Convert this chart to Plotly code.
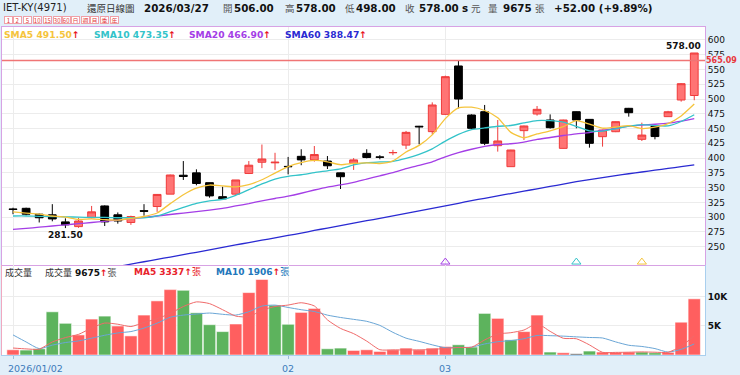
import plotly.graph_objects as go

# ---------------- data ----------------
dates = ["2026/01/02", "2026/01/05", "2026/01/06", "2026/01/07", "2026/01/08", "2026/01/09",
         "2026/01/12", "2026/01/13", "2026/01/14", "2026/01/15", "2026/01/16",
         "2026/01/19", "2026/01/20", "2026/01/21", "2026/01/22", "2026/01/23",
         "2026/01/26", "2026/01/27", "2026/01/28", "2026/01/29", "2026/01/30",
         "2026/02/02", "2026/02/03", "2026/02/04", "2026/02/05", "2026/02/06",
         "2026/02/09", "2026/02/10", "2026/02/11", "2026/02/23", "2026/02/24",
         "2026/02/25", "2026/02/26",
         "2026/03/02", "2026/03/03", "2026/03/04", "2026/03/05", "2026/03/06",
         "2026/03/09", "2026/03/10", "2026/03/11", "2026/03/12", "2026/03/13",
         "2026/03/16", "2026/03/17", "2026/03/18", "2026/03/19", "2026/03/20",
         "2026/03/23", "2026/03/24", "2026/03/25", "2026/03/26", "2026/03/27"]

opens = [314, 315, 305, 304, 292, 284, 299, 319, 304, 291, 311, 318, 339, 371, 375, 358.4,
         334.7, 339, 374, 393, 392, 386, 403, 397, 395, 375, 391, 408, 402, 409, 422, 454,
         444.8, 474.1, 556, 473, 478.6, 421, 385.5, 446.5, 474.7, 464.5, 416.5, 478.6, 465.6,
         436.3, 444.7, 484.3, 431.8, 454.4, 470.2, 498.4, 506]
highs = [316, 316, 306, 322, 298, 299, 319, 320, 308, 302.5, 322, 339, 372, 395, 381, 358.4,
         351.6, 363, 395, 423, 409, 402, 415, 420.5, 403.5, 375.5, 400, 415, 405, 414, 446,
         454.5, 494.4, 539.6, 565, 474, 490, 464.5, 414, 455, 488.2, 474, 465, 479, 466, 448,
         462, 485, 460, 455, 480, 527, 578]
lows = [305, 303, 291, 293, 281.5, 282, 298, 285, 289, 287, 302.5, 309, 339, 363, 354, 333,
        329, 338, 373, 383, 380, 372.5, 388, 394, 381.5, 347.7, 380, 399.6, 398, 405, 415.4,
        423.3, 440.2, 473, 484.3, 449, 422, 411, 385.5, 430.7, 471.9, 450, 416, 450.4, 417.7,
        419.4, 444, 470.2, 429, 431.8, 470, 495.6, 498]
closes = [313, 305, 299, 297, 287, 293.5, 309, 292, 293.5, 301, 310, 338.5, 371.4, 369, 357,
          336, 331, 363, 388, 398.5, 393, 385.5, 397, 406, 387, 368.5, 397, 401, 401.5, 409.5,
          443.6, 453, 489.9, 537.9, 500, 450.4, 425, 429, 413.7, 454.4, 482.6, 451.5, 464.5,
          464.5, 425, 447.6, 461.7, 476.9, 439, 436.5, 478.5, 526, 578]
prior_close = 312.0

volumes = [900, 850, 1070, 7440, 5460, 3460, 6190, 6700, 5000, 3290, 6880, 9320, 11260, 11140,
           7270, 5220, 4030, 5340, 10750, 13020, 8580, 5290, 7340, 8020, 1075, 1190, 785, 900,
           615, 900, 1190, 900, 1190, 1470, 1760, 1365, 7165, 6310, 2610, 4030, 6880, 510, 390,
           220, 680, 510, 460, 510, 510, 390, 460, 5650, 9675]

sma5 = [309, 307, 305, 302, 300.2, 296.3, 297.1, 295.7, 295, 297.8, 301.1, 307, 322.9, 338,
        349.2, 354.4, 352.9, 351.2, 355, 363.3, 374.7, 385.6, 392.4, 396, 393.7, 388.8, 391.1,
        391.9, 390.9, 395.4, 410.4, 421.6, 439.4, 466.8, 484.9, 486.2, 480.6, 468.5, 443.6,
        434.5, 440.9, 446.2, 453.3, 463.5, 457.6, 450.6, 452.7, 455.1, 450, 452.3, 458.5,
        471.4, 491.50]
sma10 = [302, 302, 301.5, 301, 300.5, 300, 299.5, 299.5, 299, 299, 298.7, 302, 309.3, 316.5,
         323.5, 327.7, 330, 337, 346.5, 356.2, 364.5, 369.2, 371.8, 375.5, 378.5, 381.8, 388.4,
         392.2, 393.5, 394.6, 399.6, 406.4, 415.7, 428.8, 440.1, 448.3, 451.1, 453.9, 455.2,
         459.7, 463.6, 463.4, 460.9, 453.6, 446.1, 445.8, 449.5, 454.2, 456.8, 455, 454.6, 462,
         473.35]
sma20 = [279.4, 281, 283, 285, 287, 289, 291, 293, 295, 297.5, 299.5, 302, 304.5, 307, 309.5,
         312, 315, 319, 323, 327.6, 331.6, 335.6, 340.5, 346, 351, 354.7, 359.1, 364.6, 370,
         375.4, 382.1, 387.8, 393.7, 402.2, 409.3, 415, 419.7, 423, 424.3, 427.1, 431.6, 434.9,
         438.3, 441.2, 443.1, 447.1, 450.3, 454.1, 456, 457.3, 459.1, 462.7, 466.90]
sma60 = [184, 188, 192, 196.5, 200.5, 204.5, 208.5, 212.5, 216.5, 220.5, 224.5, 228.5, 232.5,
         236.5, 240.5, 244.5, 249, 253, 257, 261, 265, 269, 273, 277.5, 281.5, 285.5, 290, 294,
         298, 302, 306.5, 310.5, 315, 319, 323.5, 328, 332, 336, 340, 344, 348, 352, 356, 360,
         363.5, 367, 370.5, 373.5, 376.5, 379.5, 382.5, 385.5, 388.47]

vma5 = [1200, 1050, 1000, 2250, 3000, 3550, 4650, 5500, 5300, 4900, 5600, 6250, 7150, 8350,
        9150, 8850, 7800, 6700, 6600, 7700, 8350, 8600, 9000, 8450, 6050, 4580, 3680, 2390,
        910, 880, 880, 880, 960, 1130, 1300, 1340, 2590, 3610, 3840, 4300, 5400, 4070, 2880,
        2800, 1740, 460, 450, 480, 530, 480, 470, 1500, 3337]
vma10 = [3460, 2250, 1100, 1700, 2150, 2420, 2900, 3400, 3800, 4036, 4634, 5481, 6500, 6870,
         7051, 7227, 7011, 6875, 7450, 8423, 8593, 8190, 7798, 7486, 6867, 6464, 6139, 5800,
         5100, 3900, 2900, 2350, 1750, 1250, 1300, 1350, 1900, 2287, 2486, 2799, 3368, 3329,
         3249, 3124, 3016, 2931, 2260, 1680, 1470, 1106, 500, 978, 1906]

ref_price = 565.09
price_ticks = [250, 275, 300, 325, 350, 375, 400, 425, 450, 475, 500, 525, 550, 575, 600]
vol_ticks = [5000, 10000]
vol_tick_text = ["5K", "10K"]
month_ticks = ["2026/01/02", "2026/02/02", "2026/03/02"]
month_text = ["2026/01/02", "02", "03"]
period_buttons = ["1", "2", "5", "10", "15", "30", "60", "日", "週", "月", "季", "年"]
signal_dates = ["2026/03/02", "2026/03/16", "2026/03/23"]
signal_names = ["SMA20", "SMA10", "SMA5"]

# ---------------- style ----------------
W, H = 740, 375
FONT = "DejaVu Sans, Noto Sans CJK TC, sans-serif"
CJK = "Noto Sans CJK TC, DejaVu Sans, sans-serif"
PAPER = "#e1eff9"
VIOLET = "#d7a2e4"
LBLUE = "#a9cfee"
GRID = "#ececec"
C5, C10, C20, C60 = "#f5c43c", "#33c3c9", "#a43ee6", "#2a2ad2"
UP_FILL, UP_LINE = "#ff7474", "#ef3b3b"
V_UP, V_DN, V_FLAT = "#ff5f5f", "#5db35d", "#5a5a5a"
ARROW = "#e8101a"
sig_colors = {"SMA5": C5, "SMA10": C10, "SMA20": C20}


def px(x):
    return x / W


def py(y):
    return 1 - y / H


X_DOM = [px(2), px(705)]
P_DOM = [py(265), py(27)]
V_DOM = [py(355), py(265)]
P_RANGE = [219, 622]
X_RANGE = [-0.84, len(dates) - 1 + 0.82]

fig = go.Figure()

for vals, col in [(sma60, C60), (sma20, C20), (sma10, C10), (sma5, C5)]:
    fig.add_trace(go.Scatter(x=dates, y=vals, mode="lines", xaxis="x", yaxis="y",
                             line=dict(color=col, width=1.3, shape="spline", smoothing=0.6),
                             hoverinfo="skip"))

fig.add_trace(go.Candlestick(
    x=dates, open=opens, high=highs, low=lows, close=closes, xaxis="x", yaxis="y",
    increasing=dict(line=dict(color=UP_LINE, width=1), fillcolor=UP_FILL),
    decreasing=dict(line=dict(color="#000000", width=1), fillcolor="#000000"),
    whiskerwidth=0))

fig.add_trace(go.Scatter(
    x=signal_dates, y=[P_RANGE[0] + 5] * len(signal_dates), mode="markers",
    xaxis="x", yaxis="y", cliponaxis=False, hoverinfo="skip",
    marker=dict(symbol="triangle-up-open", size=8,
                color=[sig_colors[n] for n in signal_names],
                line=dict(width=1, color=[sig_colors[n] for n in signal_names]))))

vol_colors = []
prev = prior_close
for c in closes:
    vol_colors.append(V_UP if c > prev else (V_DN if c < prev else V_FLAT))
    prev = c

fig.add_trace(go.Bar(x=dates, y=volumes, xaxis="x2", yaxis="y2",
                     marker=dict(color=vol_colors, line=dict(color="rgba(255,255,255,0.55)", width=1))))
fig.add_trace(go.Scatter(x=dates, y=vma10, mode="lines", xaxis="x2", yaxis="y2",
                         line=dict(color="#6aa6d6", width=1, shape="spline", smoothing=0.6)))
fig.add_trace(go.Scatter(x=dates, y=vma5, mode="lines", xaxis="x2", yaxis="y2",
                         line=dict(color="#f06a6a", width=1, shape="spline", smoothing=0.6)))

ann = []


def txt(x, y, s, size=10, color="#222", anchor="left", family=FONT):
    ann.append(dict(x=px(x), y=py(y), xref="paper", yref="paper", text=s, showarrow=False,
                    xanchor=anchor, yanchor="middle", font=dict(family=family, size=size, color=color)))


def b(s):
    return f"<b>{s}</b>"


up = f"<span style='color:{ARROW}'><b>↑</b></span>"

# header
i_last = len(dates) - 1
chg = closes[i_last] - closes[i_last - 1]
pct = chg / closes[i_last - 1] * 100
HY = 8
HB = 10.3
HC = 9.5
txt(1, HY, "IET-KY(4971)", 10, "#222")
txt(85, HY, "還原日線圖", HC, "#333", family=CJK)
txt(142, HY, b(dates[i_last]), HB, "#111")
txt(221, HY, "開", HC, "#555", family=CJK)
txt(232, HY, b(f"{opens[i_last]:.2f}"), HB, "#111")
txt(283, HY, "高", HC, "#555", family=CJK)
txt(294, HY, b(f"{highs[i_last]:.2f}"), HB, "#111")
txt(343, HY, "低", HC, "#555", family=CJK)
txt(354, HY, b(f"{lows[i_last]:.2f}"), HB, "#111")
txt(403, HY, "收", HC, "#555", family=CJK)
txt(417, HY, b(f"{closes[i_last]:.2f}"), HB, "#111")
txt(460, HY, b("s"), HB, "#111")
txt(469, HY, "元", HC, "#555", family=CJK)
txt(486, HY, "量", HC, "#555", family=CJK)
txt(501, HY, b(f"{volumes[i_last]}"), HB, "#111")
txt(533, HY, "張", HC, "#555", family=CJK)
txt(552, HY, b(f"{chg:+.2f} ({pct:+.2f}%)"), HB, "#111")

# period buttons
btn_x = [8, 17.3, 27, 37, 47, 57, 66.3, 75.7, 85, 94.7, 104, 114]
for bx, lab in zip(btn_x, period_buttons):
    ann.append(dict(x=px(bx), y=py(20), xref="paper", yref="paper", text=lab, showarrow=False,
                    xanchor="center", yanchor="middle", width=7, height=6, borderpad=0,
                    bordercolor="#f0a0a8", borderwidth=1, bgcolor="#ffffff",
                    font=dict(family=CJK, size=6, color="#e03a3a")))

# SMA legend
LY = 34
for x0, name, vals, col in [(2, "SMA5", sma5, C5), (92, "SMA10", sma10, C10),
                            (187, "SMA20", sma20, C20), (283, "SMA60", sma60, C60)]:
    txt(x0, LY, f"<span style='color:{col}'>{b(f'{name} {vals[-1]:.2f}')}</span>{up}", 9.2, col)

# volume legend
VY = 272
txt(3, VY, "成交量", 9, "#333", family=CJK)
txt(43, VY, f"成交量 <span style='color:#111'>{b(volumes[-1])}</span>{up}<span style='color:#555'>張</span>",
    9, "#333")
txt(132, VY, f"{b(f'MA5 {vma5[-1]}')}{up}張", 9, "#e8232b")
txt(214, VY, f"{b(f'MA10 {vma10[-1]}')}{up}<span style='color:#2277bb'>張</span>", 9, "#2277bb")

# date labels
for k, (d, t) in enumerate(zip(month_ticks, month_text)):
    ann.append(dict(x=d, y=py(368), xref="x2", yref="paper", text=t, showarrow=False,
                    xanchor="left" if k == 0 else "center", xshift=-7 if k == 0 else 0,
                    yanchor="middle", font=dict(family=FONT, size=9.5, color="#3c7bbb")))

# high / low labels
i_hi = max(range(len(highs)), key=lambda i: highs[i])
i_lo = min(range(len(lows)), key=lambda i: lows[i])
ann.append(dict(x=dates[i_hi], y=highs[i_hi], xref="x", yref="y", text=b(f"{highs[i_hi]:.2f}"),
                showarrow=False, xanchor="right", xshift=9, yanchor="bottom",
                font=dict(family=FONT, size=9, color="#111")))
ann.append(dict(x=dates[i_lo], y=lows[i_lo], xref="x", yref="y", text=b(f"{lows[i_lo]:.2f}"),
                showarrow=False, xanchor="center", yanchor="top",
                font=dict(family=FONT, size=9, color="#111")))
# reference price label
ann.append(dict(x=px(705), y=ref_price, xref="paper", yref="y", text=b(f"{ref_price:.2f}"),
                showarrow=False, xanchor="left", yanchor="middle", bgcolor=PAPER, borderpad=0,
                font=dict(family=FONT, size=8, color="#e8383d")))

shapes = [
    dict(type="line", xref="x domain", yref="y", x0=0, x1=1, y0=ref_price, y1=ref_price,
         line=dict(color="#f07575", width=1.5)),
    dict(type="line", xref="paper", yref="paper", x0=px(1.5), x1=px(1.5), y0=py(355), y1=py(265),
         line=dict(color="#f0a8c0", width=1)),
]

fig.update_layout(
    width=W, height=H, margin=dict(l=0, r=0, t=0, b=0),
    paper_bgcolor=PAPER, plot_bgcolor="#ffffff",
    showlegend=False, boxgap=0.15, bargap=0.06,
    hovermode=False,
    annotations=ann, shapes=shapes,
    xaxis=dict(domain=X_DOM, anchor="y", type="category", range=X_RANGE,
               tickvals=month_ticks, showticklabels=False, ticks="",
               showgrid=True, gridcolor=GRID, zeroline=False,
               showline=True, linecolor=VIOLET, linewidth=1, mirror=True,
               rangeslider=dict(visible=False)),
    yaxis=dict(domain=P_DOM, anchor="x", side="right", range=P_RANGE,
               tickvals=price_ticks, ticks="", showgrid=True, gridcolor=GRID, zeroline=False,
               showline=True, linecolor=VIOLET, linewidth=1, mirror=True,
               tickfont=dict(family=FONT, size=9, color="#111"), tickprefix="<b>", ticksuffix="</b>"),
    xaxis2=dict(domain=X_DOM, anchor="y2", type="category", range=X_RANGE,
                tickvals=month_ticks, ticktext=["", "", ""], ticks="outside", ticklen=3,
                tickcolor="#9bbcd8", showgrid=True, gridcolor=GRID, zeroline=False,
                showline=True, linecolor=LBLUE, linewidth=1, mirror=False),
    yaxis2=dict(domain=V_DOM, anchor="x2", side="right", range=[0, 15500],
                tickvals=vol_ticks, ticktext=[b(t) for t in vol_tick_text], ticks="",
                showgrid=True, gridcolor=GRID, zeroline=False,
                showline=True, linecolor=LBLUE, linewidth=1, mirror=True,
                tickfont=dict(family=FONT, size=9, color="#111")),
)

fig.write_html("out.html", config={"displayModeBar": False},
               post_script="document.body.style.margin='0';document.body.style.padding='0';"
                           "document.body.style.background='" + PAPER + "';")
